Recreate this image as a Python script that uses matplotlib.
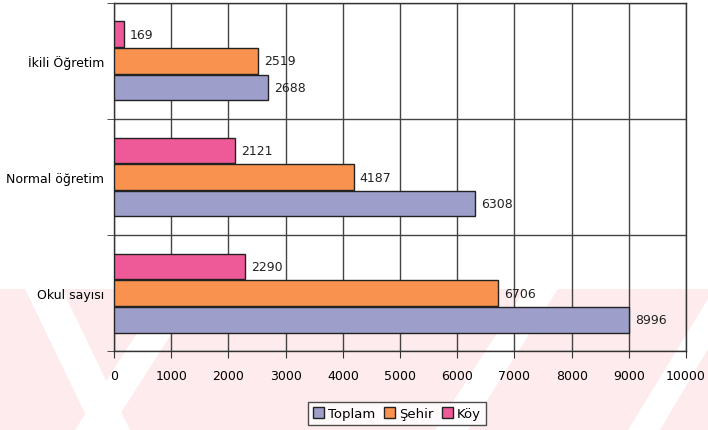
import numpy as np
import matplotlib
import matplotlib.pyplot as plt
from matplotlib.patches import Patch, Polygon, Rectangle

matplotlib.rcParams.update({'font.size': 9, 'font.family': 'DejaVu Sans'})

categories = ["Okul sayısı", "Normal öğretim", "İkili Öğretim"]
toplam = [8996, 6308, 2688]
sehir = [6706, 4187, 2519]
koy = [2290, 2121, 169]
series_names = ["Toplam", "Şehir", "Köy"]
series_colors = ["#9d9ec9", "#f8924e", "#ee5a98"]
x_ticks = [0, 1000, 2000, 3000, 4000, 5000, 6000, 7000, 8000, 9000, 10000]

W, H = 708, 431
fig = plt.figure(figsize=(W / 100, H / 100), dpi=100)


def px(x, y):
    # pixel (from top-left) -> figure fraction
    return (x / W, 1 - y / H)


# faint pink watermark in the lower part of the page
pink = "#fdebed"
fig.add_artist(Rectangle(px(0, 431), 1, (431 - 290) / H, transform=fig.transFigure,
                         facecolor=pink, edgecolor="none", zorder=-5))
white_bands = [
    [(25, 290), (62, 290), (130, 431), (93, 431)],
    [(165, 290), (200, 290), (110, 431), (75, 431)],
    [(525, 290), (558, 290), (468, 431), (435, 431)],
    [(708, 300), (708, 350), (660, 431), (628, 431)],
]
for band in white_bands:
    fig.add_artist(Polygon([px(x, y) for x, y in band], closed=True, transform=fig.transFigure,
                           facecolor="white", edgecolor="none", zorder=-4))

ax = fig.add_axes([0.161, 0.183, 0.808, 0.808])
ax.set_facecolor("none")

y = np.arange(len(categories))
h = 0.22
offsets = [-0.23, 0.0, 0.23]
for vals, off, col in zip([toplam, sehir, koy], offsets, series_colors):
    ax.barh(y + off, vals, height=h, color=col, edgecolor="#222222", linewidth=1.0, zorder=3)
    for yy, v in zip(y + off, vals):
        ax.text(v + 110, yy, str(v), va="center", ha="left", fontsize=9, color="#222222", zorder=4)

ax.set_xlim(0, 10000)
ax.set_ylim(-0.5, 2.5)
ax.set_xticks(x_ticks)
ax.set_xticklabels([str(t) for t in x_ticks])
ax.set_yticks(y)
ax.set_yticklabels(categories)
ax.set_yticks([-0.5, 0.5, 1.5, 2.5], minor=True)
ax.tick_params(axis="y", which="major", length=0, pad=7, labelsize=9)
ax.tick_params(axis="y", which="minor", length=5, color="#333333")
ax.tick_params(axis="x", length=5, color="#333333", pad=8, labelsize=9)
ax.grid(axis="x", color="#444444", linewidth=1.0, zorder=0)
ax.grid(axis="y", which="minor", color="#444444", linewidth=1.0, zorder=0)
for s in ax.spines.values():
    s.set_color("#333333")
    s.set_linewidth(1.0)

handles = [Patch(facecolor=c, edgecolor="#222222", label=n) for c, n in zip(series_colors, series_names)]
leg = fig.legend(handles=handles, loc="center", bbox_to_anchor=(0.561, 0.038), ncol=3, frameon=True,
                 fancybox=False, edgecolor="#222222", handlelength=0.8, handleheight=0.8,
                 handletextpad=0.3, columnspacing=0.7, borderpad=0.4, fontsize=9.5)
leg.get_frame().set_linewidth(1.0)

fig.savefig("out.png", dpi=100)
